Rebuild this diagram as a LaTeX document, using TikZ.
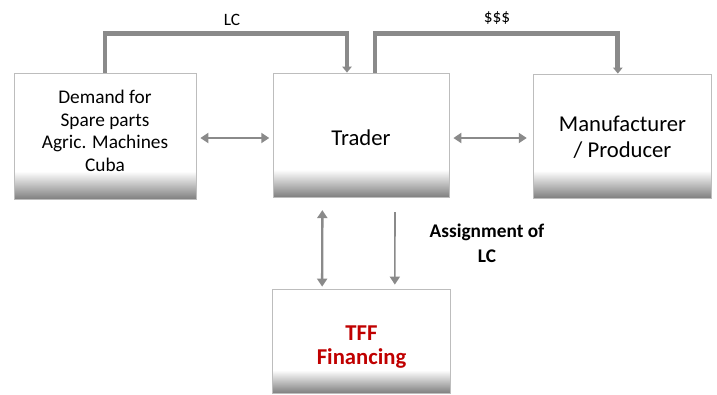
\documentclass[tikz,border=0pt]{standalone}
\usepackage{fontspec}
\setmainfont{Carlito}
\usetikzlibrary{arrows.meta}
\definecolor{linegray}{HTML}{8A8A8A}
\definecolor{boxedge}{HTML}{BDBDBD}
\definecolor{tffred}{HTML}{C00000}
\pgfdeclareverticalshading{boxshade}{100bp}{color(0bp)=(black!50); color(25bp)=(black!50); color(36bp)=(white); color(100bp)=(white)}
\tikzset{
  party/.style={draw=boxedge,line width=0.6pt,shading=boxshade,inner sep=0pt},
  bracket/.style={draw=linegray,line width=3.6pt,-{Triangle[length=4.5pt,width=7pt]}},
  dblarrow/.style={draw=linegray,line width=1.8pt,{Triangle[length=6pt,width=7.5pt]}-{Triangle[length=6pt,width=7.5pt]}},
  onearrow/.style={draw=linegray,line width=1.2pt,-{Triangle[length=6pt,width=7.5pt]}}
}
\begin{document}
\begin{tikzpicture}[x=0.75pt,y=-0.75pt]
\useasboundingbox (0,0) rectangle (717,394);
% boxes
\node (demand) at (105,136) [party,minimum width=136.5pt,minimum height=94.5pt] {};
\node (trader) at (361,135) [party,minimum width=132pt,minimum height=93pt] {};
\node (maker) at (622.5,136) [party,minimum width=134pt,minimum height=93pt] {};
\node (tff) at (361.5,341) [party,minimum width=133pt,minimum height=78pt] {};
% box texts
\node (demandtext) at ([yshift=3.75pt]demand.center) [align=center,font=\fontsize{14.5}{17}\selectfont] {Demand for\\Spare parts\\Agric. Machines\\Cuba};
\node (tradertext) at ([yshift=-1.9pt]trader.center) [font=\fontsize{17}{20}\selectfont] {Trader};
\node (makertext) at ([yshift=-0.75pt]maker.center) [align=center,font=\fontsize{17}{19.5}\selectfont] {Manufacturer\\/ Producer};
\node (tfftext) at ([yshift=-4.8pt]tff.center) [align=center,text=tffred,font=\bfseries\fontsize{17}{18}\selectfont] {TFF\\Financing};
% labels
\node (lc) at (232,20) [font=\fontsize{13}{15}\selectfont] {LC};
\node (money) at (497,18) [font=\fontsize{13}{15}\selectfont] {\$\$\$};
\node (assign) at (487,243) [align=center,font=\bfseries\fontsize{14.5}{18.5}\selectfont] {Assignment of\\LC};
% connectors
\draw[bracket] (demand.north) -- ++(0,-39) -| ([xshift=-10.5pt]trader.north);
\draw[bracket] ([xshift=10.5pt]trader.north) -- ++(0,-39) -| ([xshift=-3.5pt]maker.north);
\draw[dblarrow] ([xshift=3pt,yshift=-1.5pt]demand.east) -- ([xshift=-2.5pt,yshift=-2.25pt]trader.west);
\draw[dblarrow] ([xshift=3pt,yshift=-2.25pt]trader.east) -- ([xshift=-4.5pt,yshift=-1.5pt]maker.west);
\draw[dblarrow] ([xshift=-29pt,yshift=-9.5pt]trader.south) -- ([xshift=-29.5pt,yshift=1.5pt]tff.north);
\draw[onearrow] ([xshift=25.5pt,yshift=-11pt]trader.south) -- ([xshift=25pt,yshift=3pt]tff.north);
\end{tikzpicture}
\end{document}
